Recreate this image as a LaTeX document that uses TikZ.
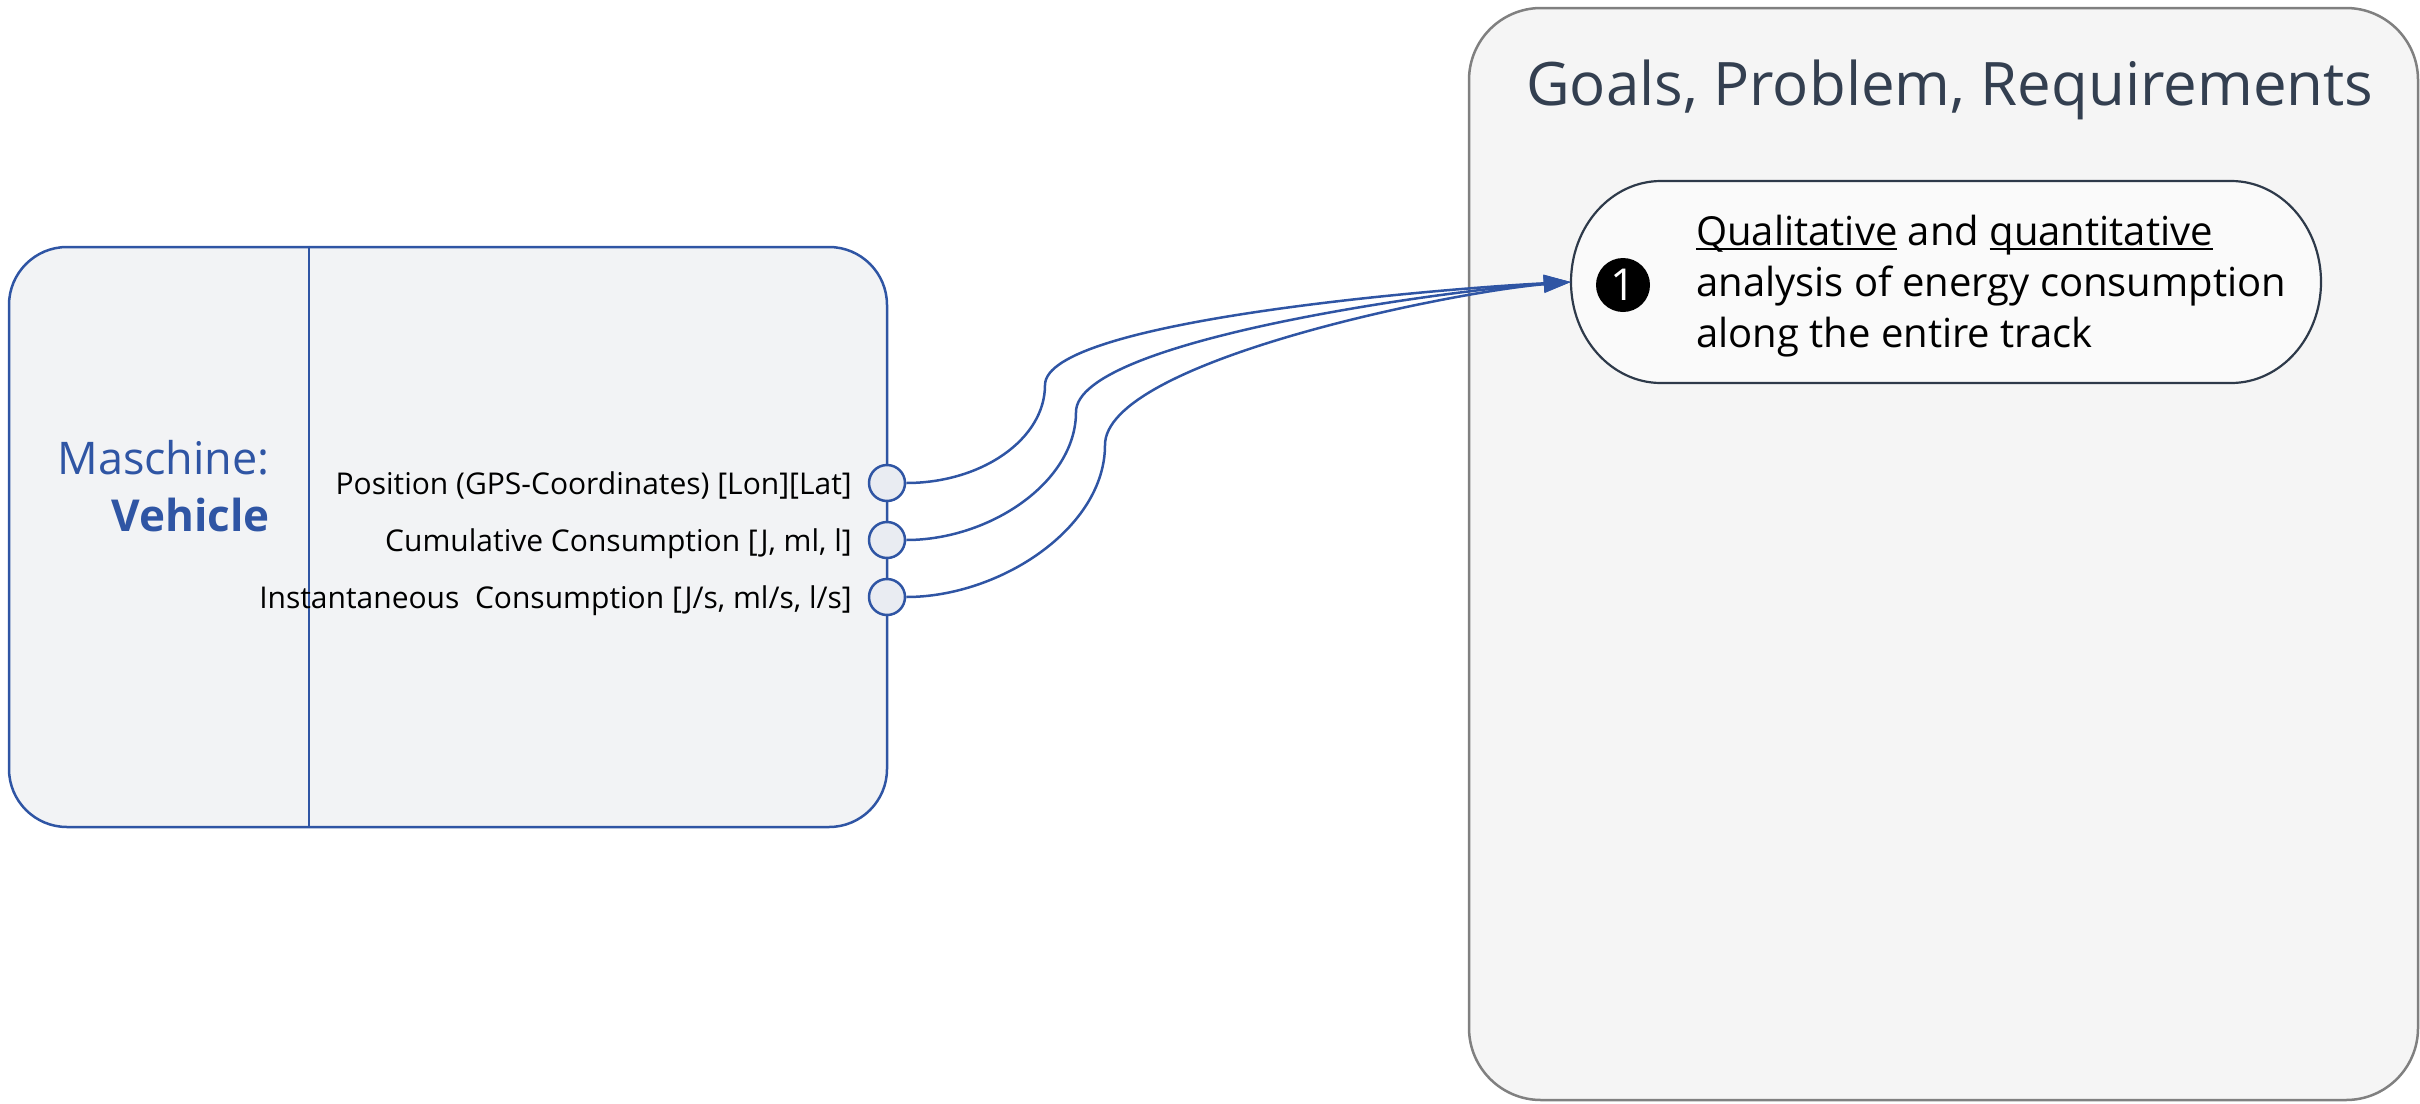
\documentclass[tikz,border=0pt]{standalone}
\usepackage{fontspec}
\setmainfont{Open Sans}
\usetikzlibrary{arrows.meta}
\definecolor{vblue}{HTML}{2F55A4}
\definecolor{vfill}{HTML}{F2F3F5}
\definecolor{pfill}{HTML}{E9ECF2}
\definecolor{gfill}{HTML}{F5F5F5}
\definecolor{gline}{HTML}{808080}
\definecolor{ink}{HTML}{333F50}
\definecolor{pillfill}{HTML}{FAFAFA}
\definecolor{pillline}{HTML}{2E3A4A}
\newcommand{\ulx}[1]{\setbox0\hbox{#1}\rlap{\rule[-0.13em]{\wd0}{0.055em}}\box0\relax}
\begin{document}
\begin{tikzpicture}[x=1pt,y=-1pt,
  port/.style={circle,draw=vblue,fill=pfill,line width=2.5pt,minimum size=36pt,inner sep=0pt},
  portlabel/.style={anchor=base east,inner sep=0pt,font=\fontsize{30}{34}\selectfont},
  flow/.style={draw=vblue,line width=2.5pt,-{Triangle[length=27pt,width=17pt]}},
]
\useasboundingbox (0,0) rectangle (2420,1103);
% right container
\draw[gline,fill=gfill,line width=2.5pt,rounded corners=72pt] (1469,8) rectangle (2418,1100);
\node[anchor=base west,inner sep=0pt,text=ink,font=\fontsize{60}{64}\selectfont] (title) at (1526,105) {Goals, Problem, Requirements};
% pill
\draw[pillline,fill=pillfill,line width=2.2pt]
  (1661,181) -- (2231,181) arc[start angle=90,end angle=-90,x radius=90pt,y radius=101pt]
  -- (1661,383) arc[start angle=-90,end angle=-270,x radius=90pt,y radius=101pt] -- cycle;
\node[minimum width=750pt,minimum height=202pt,inner sep=0pt] (pill) at (1946,282) {};
\node[circle,fill=black,minimum size=54pt,inner sep=0pt,text=white,font=\fontsize{44}{44}\selectfont] (one) at (1623,285) {1};
\node[anchor=base west,inner sep=0pt,font=\fontsize{40}{51}\selectfont,align=left] (ptext) at (1696,347)
  {\ulx{Qualitative} and \ulx{quantitative}\\analysis of energy consumption\\along the entire track};
% vehicle box
\node[draw=vblue,fill=vfill,line width=2.5pt,rounded corners=58pt,minimum width=878pt,minimum height=580pt,inner sep=0pt] (veh) at (448,537) {};
\draw[vblue,line width=2.5pt] (veh.north west -| 309,0) -- (veh.south west -| 309,0);
\node[anchor=base east,inner sep=0pt,text=vblue,font=\fontsize{45}{48}\selectfont] (mlab) at (270,474) {Maschine:};
\node[anchor=base east,inner sep=0pt,text=vblue,font=\bfseries\fontsize{44}{48}\selectfont] (vlab) at (270,531) {Vehicle};
% ports
\node[port] (p1) at (887,483) {};
\node[port] (p2) at (887,540) {};
\node[port] (p3) at (887,597) {};
\node[portlabel] (l1) at (852,494) {Position (GPS-Coordinates) [Lon][Lat]};
\node[portlabel] (l2) at (852,551) {Cumulative Consumption [J, ml, l]};
\node[portlabel] (l3) at (852,608) {Instantaneous\ \ Consumption [J/s, ml/s, l/s]};
% connectors
\draw[flow] (p1.east) .. controls (982,483) and (1045,439) .. (1045,385)
  .. controls (1045,320) and (1450,288) .. (pill.west);
\draw[flow] (p2.east) .. controls (990,540) and (1076,482) .. (1076,412)
  .. controls (1076,340) and (1450,290) .. (pill.west);
\draw[flow] (p3.east) .. controls (1000,597) and (1105,528) .. (1105,445)
  .. controls (1105,362) and (1450,292) .. (pill.west);
\end{tikzpicture}
\end{document}
